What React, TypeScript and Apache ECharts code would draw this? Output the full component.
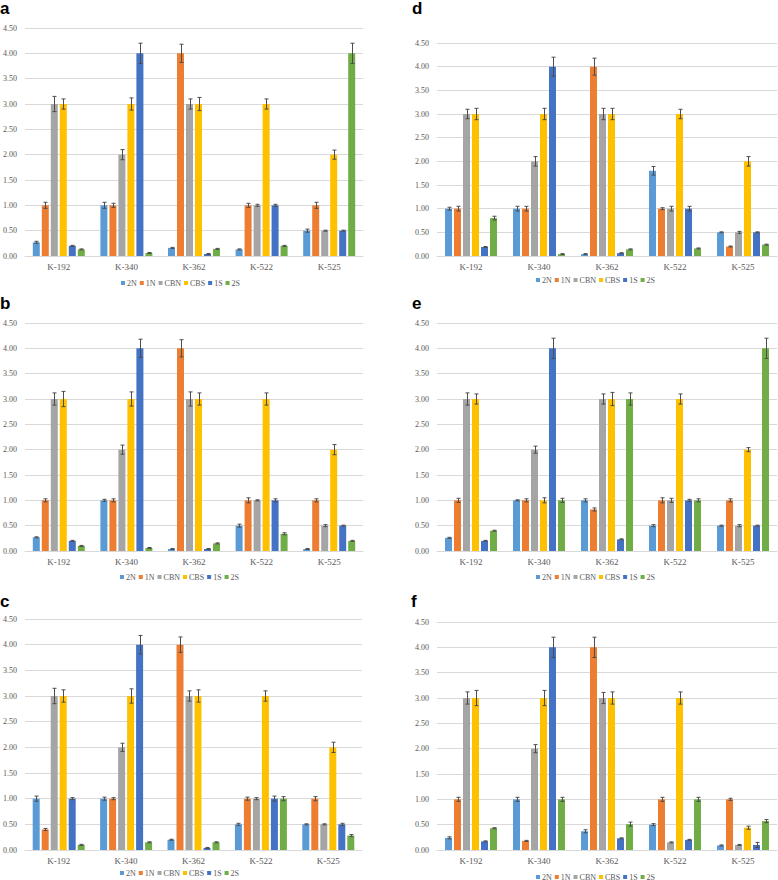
import React, { useEffect, useRef } from "react";
import * as echarts from "echarts";

const categories = ["K-192", "K-340", "K-362", "K-522", "K-525"];
const seriesNames = ["2N", "1N", "CBN", "CBS", "1S", "2S"];
const seriesColors = ["#5B9BD5", "#ED7D31", "#A5A5A5", "#FFC000", "#4472C4", "#70AD47"];
const yMin = 0;
const yMax = 4.5;
const yStep = 0.5;

// rows: 2N, 1N, CBN, CBS, 1S, 2S ; columns: categories
const aValues = [
  [0.27, 1.0, 0.16, 0.13, 0.5],
  [1.0, 1.0, 4.0, 1.0, 1.0],
  [3.0, 2.0, 3.0, 1.0, 0.5],
  [3.0, 3.0, 3.0, 3.0, 2.0],
  [0.2, 4.0, 0.04, 1.0, 0.5],
  [0.13, 0.06, 0.14, 0.2, 4.0],
];
const aErrors = [
  [0.02, 0.06, 0.01, 0.01, 0.03],
  [0.06, 0.04, 0.18, 0.04, 0.06],
  [0.15, 0.1, 0.1, 0.02, 0.01],
  [0.1, 0.12, 0.13, 0.1, 0.09],
  [0.01, 0.2, 0.01, 0.02, 0.01],
  [0.01, 0.01, 0.01, 0.01, 0.2],
];

const bValues = [
  [0.27, 1.0, 0.04, 0.5, 0.04],
  [1.0, 1.0, 4.0, 1.0, 1.0],
  [3.0, 2.0, 3.0, 1.0, 0.5],
  [3.0, 3.0, 3.0, 3.0, 2.0],
  [0.2, 4.0, 0.04, 1.0, 0.5],
  [0.1, 0.06, 0.15, 0.34, 0.2],
];
const bErrors = [
  [0.01, 0.02, 0.01, 0.03, 0.01],
  [0.03, 0.03, 0.17, 0.05, 0.03],
  [0.12, 0.09, 0.14, 0.01, 0.02],
  [0.15, 0.14, 0.12, 0.12, 0.1],
  [0.01, 0.18, 0.01, 0.03, 0.01],
  [0.01, 0.01, 0.01, 0.02, 0.01],
];

const cValues = [
  [1.0, 1.0, 0.2, 0.5, 0.5],
  [0.4, 1.0, 4.0, 1.0, 1.0],
  [3.0, 2.0, 3.0, 1.0, 0.5],
  [3.0, 3.0, 3.0, 3.0, 2.0],
  [1.0, 4.0, 0.04, 1.0, 0.5],
  [0.1, 0.15, 0.15, 1.0, 0.28],
];
const cErrors = [
  [0.05, 0.03, 0.01, 0.02, 0.01],
  [0.02, 0.02, 0.15, 0.03, 0.04],
  [0.15, 0.08, 0.1, 0.02, 0.01],
  [0.12, 0.14, 0.12, 0.1, 0.1],
  [0.02, 0.18, 0.01, 0.05, 0.02],
  [0.01, 0.01, 0.01, 0.04, 0.02],
];

const dValues = [
  [1.0, 1.0, 0.04, 1.8, 0.5],
  [1.0, 1.0, 4.0, 1.0, 0.2],
  [3.0, 2.0, 3.0, 1.0, 0.5],
  [3.0, 3.0, 3.0, 3.0, 2.0],
  [0.19, 4.0, 0.06, 1.0, 0.5],
  [0.8, 0.04, 0.14, 0.16, 0.24],
];
const dErrors = [
  [0.03, 0.05, 0.01, 0.09, 0.01],
  [0.05, 0.05, 0.18, 0.02, 0.01],
  [0.1, 0.1, 0.12, 0.05, 0.02],
  [0.12, 0.12, 0.12, 0.1, 0.1],
  [0.01, 0.2, 0.01, 0.05, 0.01],
  [0.04, 0.01, 0.01, 0.01, 0.01],
];

const eValues = [
  [0.26, 1.0, 1.0, 0.5, 0.5],
  [1.0, 1.0, 0.82, 1.0, 1.0],
  [3.0, 2.0, 3.0, 1.0, 0.5],
  [3.0, 1.0, 3.0, 3.0, 2.0],
  [0.2, 4.0, 0.23, 1.0, 0.5],
  [0.4, 1.0, 3.0, 1.0, 4.0],
];
const eErrors = [
  [0.01, 0.01, 0.03, 0.02, 0.01],
  [0.04, 0.03, 0.03, 0.05, 0.03],
  [0.12, 0.07, 0.1, 0.04, 0.02],
  [0.1, 0.05, 0.13, 0.1, 0.04],
  [0.01, 0.2, 0.01, 0.02, 0.01],
  [0.01, 0.04, 0.12, 0.03, 0.2],
];

const fValues = [
  [0.24, 1.0, 0.37, 0.5, 0.09],
  [1.0, 0.18, 4.0, 1.0, 1.0],
  [3.0, 2.0, 3.0, 0.15, 0.1],
  [3.0, 3.0, 3.0, 3.0, 0.44],
  [0.17, 4.0, 0.23, 0.2, 0.1],
  [0.43, 1.0, 0.51, 1.0, 0.57],
];
const fErrors = [
  [0.02, 0.04, 0.03, 0.02, 0.01],
  [0.04, 0.01, 0.2, 0.04, 0.02],
  [0.12, 0.08, 0.11, 0.01, 0.01],
  [0.15, 0.15, 0.12, 0.12, 0.03],
  [0.01, 0.2, 0.01, 0.01, 0.05],
  [0.01, 0.04, 0.04, 0.04, 0.03],
];

// layout
const panels = [
  { label: "a", values: aValues, errors: aErrors, grid: { left: 21, top: 28, width: 342, height: 228 }, legend: { left: 121, top: 279 }, tx: 0, ty: 0 },
  { label: "b", values: bValues, errors: bErrors, grid: { left: 21, top: 323, width: 342, height: 228 }, legend: { left: 120, top: 573 }, tx: 0, ty: 295 },
  { label: "c", values: cValues, errors: cErrors, grid: { left: 21, top: 619, width: 341, height: 231 }, legend: { left: 120, top: 869 }, tx: 0, ty: 593 },
  { label: "d", values: dValues, errors: dErrors, grid: { left: 437, top: 43, width: 340, height: 213 }, legend: { left: 536, top: 276 }, tx: 412, ty: 0 },
  { label: "e", values: eValues, errors: eErrors, grid: { left: 437, top: 323, width: 340, height: 228 }, legend: { left: 536, top: 573 }, tx: 412, ty: 295 },
  { label: "f", values: fValues, errors: fErrors, grid: { left: 437, top: 622, width: 340, height: 228 }, legend: { left: 536, top: 873 }, tx: 411, ty: 593 },
];

const BAR_W = 7;
const BAR_STEP = 9;
const SERIF = "Liberation Serif";
const SANS = "Liberation Sans";
const TEXT_COLOR = "#595959";

export default function App() {
  const ref = useRef<HTMLDivElement>(null);
  useEffect(() => {
    if (!ref.current) return;
    const chart = echarts.init(ref.current, undefined, { renderer: "svg" });

    const grids: any[] = [];
    const xAxes: any[] = [];
    const yAxes: any[] = [];
    const legends: any[] = [];
    const series: any[] = [];
    const graphics: any[] = [];

    panels.forEach((p, pi) => {
      grids.push({ ...p.grid, containLabel: false });
      xAxes.push({
        type: "category",
        gridIndex: pi,
        data: categories,
        axisLine: { show: true, lineStyle: { color: "#D9D9D9", width: 1 } },
        axisTick: { show: false },
        axisLabel: { fontFamily: SERIF, fontSize: 9, color: TEXT_COLOR, margin: 6 },
      });
      yAxes.push({
        type: "value",
        gridIndex: pi,
        min: yMin,
        max: yMax,
        interval: yStep,
        axisLine: { show: false },
        axisTick: { show: false },
        splitLine: { lineStyle: { color: "#D9D9D9", width: 1 } },
        axisLabel: {
          fontFamily: SERIF,
          fontSize: 8,
          color: TEXT_COLOR,
          margin: 8,
          formatter: (v: number) => v.toFixed(2),
        },
      });
      legends.push({
        data: seriesNames,
        left: p.legend.left,
        top: p.legend.top,
        orient: "horizontal",
        itemWidth: 4,
        itemHeight: 4,
        itemGap: 3,
        icon: "rect",
        padding: 0,
        textStyle: { fontFamily: SERIF, fontSize: 8, color: TEXT_COLOR, padding: [0, 0, 0, -3] },
        selectedMode: false,
      });
      seriesNames.forEach((name, si) => {
        series.push({
          type: "bar",
          name,
          xAxisIndex: pi,
          yAxisIndex: pi,
          data: p.values[si],
          barWidth: BAR_W,
          barGap: "28.57%",
          itemStyle: { color: seriesColors[si] },
          z: 2,
        });
      });
      const errData: number[][] = [];
      seriesNames.forEach((_, si) => {
        categories.forEach((_, ci) => {
          errData.push([ci, p.values[si][ci], p.errors[si][ci], si]);
        });
      });
      series.push({
        type: "custom",
        name: "err-" + p.label,
        xAxisIndex: pi,
        yAxisIndex: pi,
        data: errData,
        encode: { x: 0, y: 1 },
        z: 5,
        silent: true,
        renderItem: (_params: any, api: any) => {
          const ci = api.value(0);
          const val = api.value(1);
          const err = api.value(2);
          const si = api.value(3);
          const base = api.coord([ci, val]);
          const x = Math.round(base[0] + (si - 2.5) * BAR_STEP) + 0.5;
          const yTop = api.coord([ci, val + err])[1];
          const yBot = api.coord([ci, Math.max(0, val - err)])[1];
          const style = { stroke: "#4D4D4D", lineWidth: 1 };
          return {
            type: "group",
            children: [
              { type: "line", shape: { x1: x, y1: yTop, x2: x, y2: yBot }, style },
              { type: "line", shape: { x1: x - 2, y1: yTop, x2: x + 2, y2: yTop }, style },
              { type: "line", shape: { x1: x - 2, y1: yBot, x2: x + 2, y2: yBot }, style },
            ],
          };
        },
      });
      graphics.push({
        type: "text",
        x: p.tx,
        y: p.ty,
        style: {
          text: p.label,
          fontFamily: SANS,
          fontWeight: "bold",
          fontSize: 17,
          fill: "#000000",
          verticalAlign: "top",
          align: "left",
        },
      });
    });

    chart.setOption({
      animation: false,
      backgroundColor: "#FFFFFF",
      grid: grids,
      xAxis: xAxes,
      yAxis: yAxes,
      legend: legends,
      series,
      graphic: graphics,
    });
    return () => chart.dispose();
  }, []);
  return (
    <div
      ref={ref}
      style={{ position: "absolute", left: 0, top: 0, width: 778, height: 880 }}
    />
  );
}
